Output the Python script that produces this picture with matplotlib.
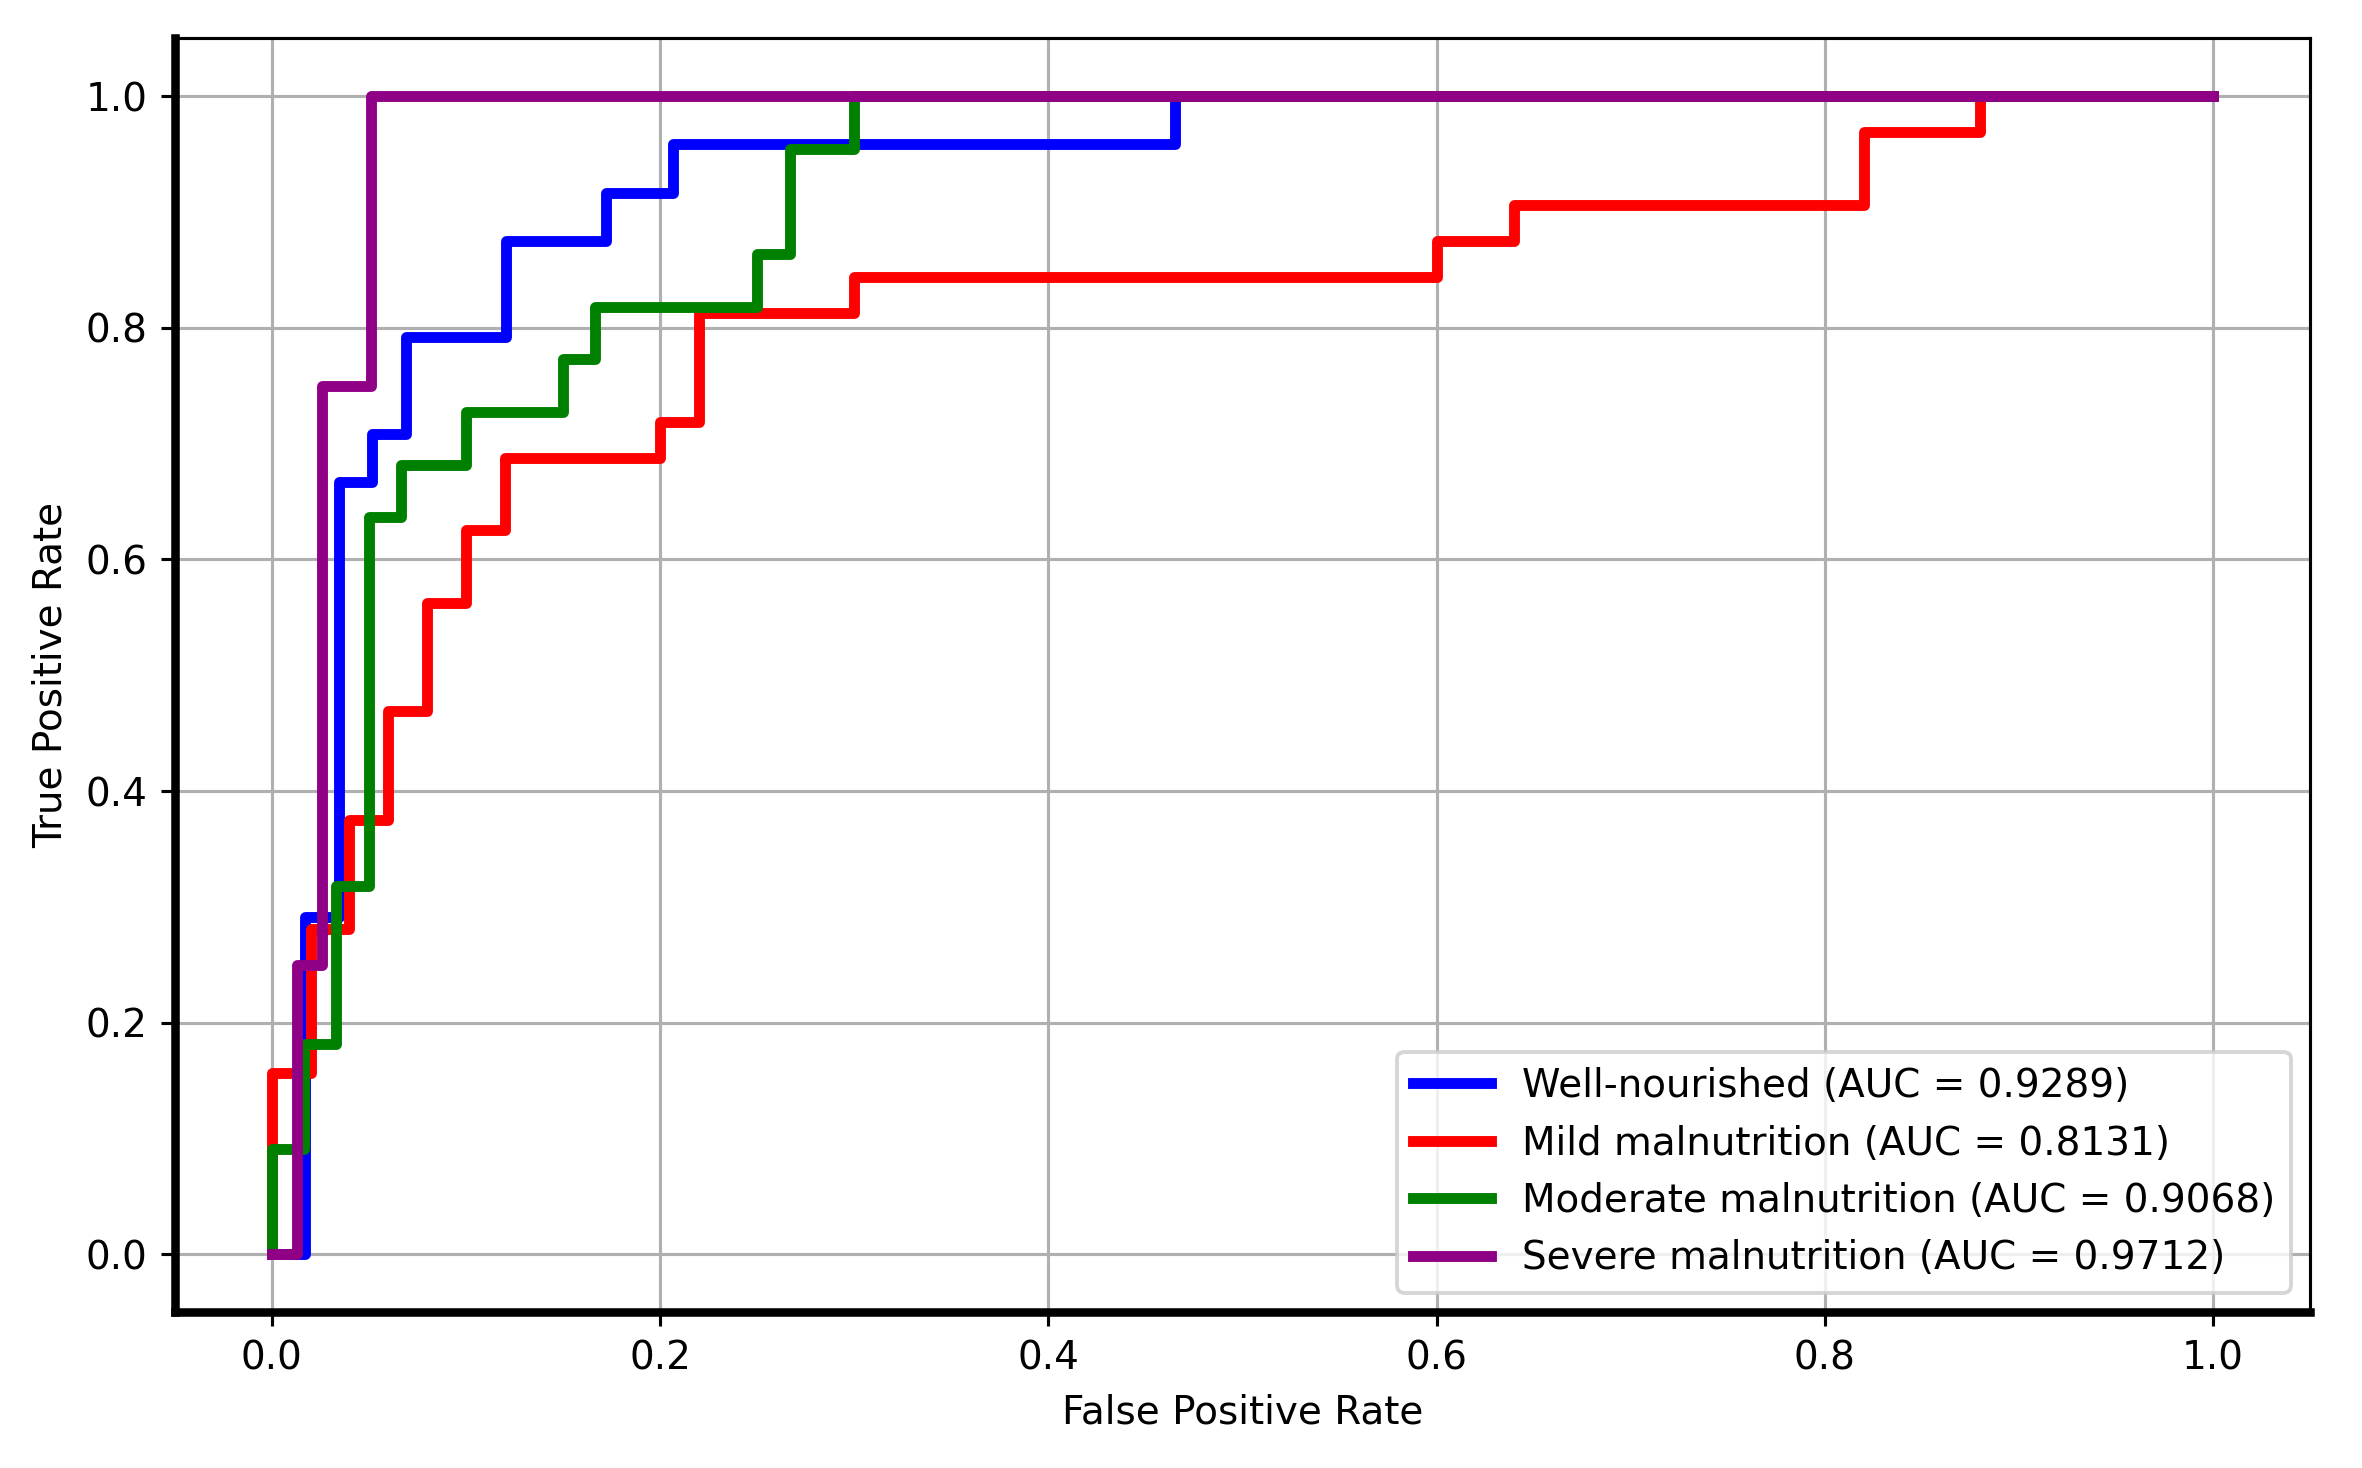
import numpy as np
import matplotlib
matplotlib.use("Agg")
import matplotlib.pyplot as plt

# ROC curve corner points
classes = ["Well-nourished", "Mild malnutrition", "Moderate malnutrition", "Severe malnutrition"]
aucs = [0.9289, 0.8131, 0.9068, 0.9712]
colors = ["blue", "red", "green", "#8f0086"]

fpr_well = [0, 0.0172, 0.0172, 0.0345, 0.0345, 0.0517, 0.0517, 0.0690, 0.0690, 0.1207, 0.1207,
            0.1724, 0.1724, 0.2069, 0.2069, 0.4655, 0.4655, 1.0]
tpr_well = [0, 0, 0.2917, 0.2917, 0.6667, 0.6667, 0.7083, 0.7083, 0.7917, 0.7917, 0.875,
            0.875, 0.9167, 0.9167, 0.9583, 0.9583, 1.0, 1.0]

fpr_mild = [0, 0, 0.02, 0.02, 0.04, 0.04, 0.06, 0.06, 0.08, 0.08, 0.10, 0.10, 0.12, 0.12,
            0.20, 0.20, 0.22, 0.22, 0.30, 0.30, 0.60, 0.60, 0.64, 0.64, 0.82, 0.82, 0.88, 0.88, 1.0]
tpr_mild = [0, 0.15625, 0.15625, 0.28125, 0.28125, 0.375, 0.375, 0.46875, 0.46875, 0.5625,
            0.5625, 0.625, 0.625, 0.6875, 0.6875, 0.71875, 0.71875, 0.8125, 0.8125, 0.84375,
            0.84375, 0.875, 0.875, 0.90625, 0.90625, 0.96875, 0.96875, 1.0, 1.0]

fpr_mod = [0, 0, 0.0167, 0.0167, 0.0333, 0.0333, 0.05, 0.05, 0.0667, 0.0667, 0.10, 0.10,
           0.15, 0.15, 0.1667, 0.1667, 0.25, 0.25, 0.2667, 0.2667, 0.30, 0.30, 1.0]
tpr_mod = [0, 0.0909, 0.0909, 0.1818, 0.1818, 0.3182, 0.3182, 0.6364, 0.6364, 0.6818, 0.6818,
           0.7273, 0.7273, 0.7727, 0.7727, 0.8182, 0.8182, 0.8636, 0.8636, 0.9545, 0.9545, 1.0, 1.0]

fpr_sev = [0, 0.0128, 0.0128, 0.0256, 0.0256, 0.0513, 0.0513, 1.0]
tpr_sev = [0, 0, 0.25, 0.25, 0.75, 0.75, 1.0, 1.0]

fprs = [fpr_well, fpr_mild, fpr_mod, fpr_sev]
tprs = [tpr_well, tpr_mild, tpr_mod, tpr_sev]

dpi = 280
fig, ax = plt.subplots(figsize=(2362 / dpi, 1468 / dpi), dpi=dpi)
fig.subplots_adjust(left=0.074, right=0.978, bottom=0.106, top=0.974)

for name, auc, c, fx, ty in zip(classes, aucs, colors, fprs, tprs):
    ax.plot(fx, ty, color=c, lw=2.8, label=f"{name} (AUC = {auc:.4f})")

ax.set_xlabel("False Positive Rate")
ax.set_ylabel("True Positive Rate")
ax.grid(True)
ax.legend(loc="lower right")

ax.spines["left"].set_linewidth(2.2)
ax.spines["bottom"].set_linewidth(2.2)

fig.savefig("out.png", dpi=dpi)
